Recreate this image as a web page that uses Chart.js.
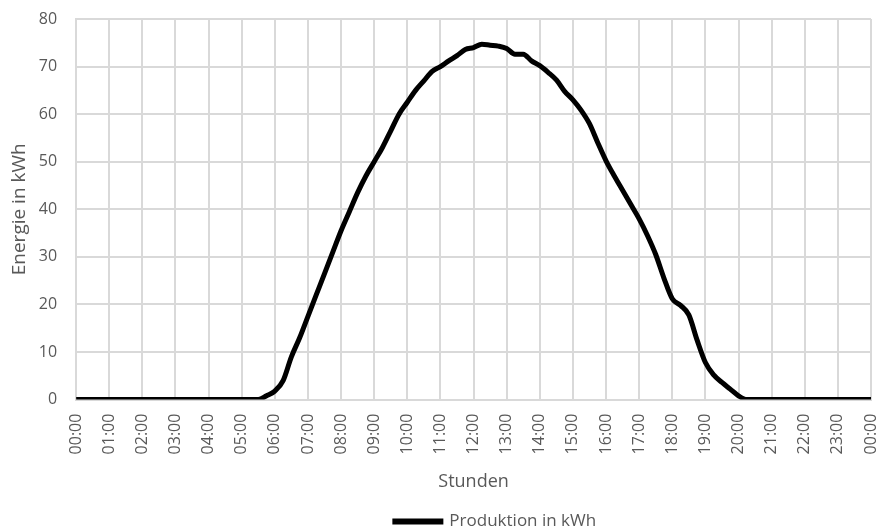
<!DOCTYPE html>
<html>
<head>
<meta charset="utf-8">
<script src="https://cdn.jsdelivr.net/npm/chart.js@4/dist/chart.umd.min.js"></script>
<style>
  html, body { margin: 0; padding: 0; background: #fff; }
  #wrap { width: 879px; height: 526px; }
</style>
</head>
<body>
<div id="wrap"><canvas id="prodChart"></canvas></div>
<script>
// hour labels shown on the x axis (every 4th quarter-hour)
const hourLabels = ['00:00','01:00','02:00','03:00','04:00','05:00','06:00','07:00','08:00',
  '09:00','10:00','11:00','12:00','13:00','14:00','15:00','16:00','17:00','18:00','19:00',
  '20:00','21:00','22:00','23:00','00:00'];

// quarter-hour production values in kWh, 00:00 .. 24:00
const nightMorning = [0,0,0,0, 0,0,0,0, 0,0,0,0, 0,0,0,0, 0,0,0,0, 0,0];
const production = nightMorning.concat([
  0, 0.8,                                   // 05:30, 05:45
  1.8, 4, 9, 13,                            // 06:00
  17.5, 22, 26.5, 31,                       // 07:00
  35.5, 39.5, 43.5, 47,                     // 08:00
  50, 53, 56.5, 60,                         // 09:00
  62.5, 65, 67, 69,                         // 10:00
  70, 71.2, 72.3, 73.6,                     // 11:00
  74, 74.7, 74.5, 74.3,                     // 12:00
  73.8, 72.6, 72.6, 71.2,                   // 13:00
  70.2, 68.8, 67.2, 64.8,                   // 14:00
  63, 60.8, 58, 54,                         // 15:00
  50.2, 47, 44, 41,                         // 16:00
  38, 34.5, 30.5, 25.5,                     // 17:00
  21.2, 19.8, 17.8, 12.5,                   // 18:00
  7.8, 5.2, 3.6, 2.2,                       // 19:00
  0.8, 0, 0, 0,                             // 20:00
  0, 0, 0, 0,  0, 0, 0, 0,  0, 0, 0, 0,     // 21:00 - 23:45
  0                                         // 24:00
]);

const yTicks = { min: 0, max: 80, step: 10 };

const gridColor = '#d9d9d9';
const textColor = '#595959';
const fontFamily = '"Open Sans", "Noto Sans", sans-serif';

// legend sits a bit right of centre, under the axis title
const legendShift = {
  id: 'legendShift',
  afterLayout(chart) {
    const lg = chart.legend;
    if (lg) { lg.left += 60; lg.right += 60; }
  }
};

new Chart(document.getElementById('prodChart'), {
  type: 'line',
  data: {
    datasets: [{
      label: 'Produktion in kWh',
      data: production.map((v, i) => ({ x: i, y: v })),
      borderColor: '#000',
      backgroundColor: '#000',
      borderWidth: 5,
      pointRadius: 0,
      cubicInterpolationMode: 'monotone',
      fill: false
    }]
  },
  plugins: [legendShift],
  options: {
    responsive: true,
    maintainAspectRatio: false,
    animation: false,
    layout: { padding: { top: 19, right: 8, left: 0, bottom: -14 } },
    plugins: {
      tooltip: { enabled: false },
      legend: {
        position: 'bottom',
        labels: {
          color: textColor,
          font: { family: fontFamily, size: 17 },
          boxWidth: 46,
          boxHeight: 1,
          padding: 0
        }
      }
    },
    scales: {
      x: {
        type: 'linear',
        min: 0,
        max: (hourLabels.length - 1) * 4,
        // let the last rotated label run to the canvas edge
        afterFit: scale => { scale.paddingRight = 0; },
        grid: { color: gridColor, lineWidth: 2, drawTicks: true, tickLength: 14, tickColor: 'transparent' },
        border: { color: gridColor, width: 2 },
        ticks: {
          stepSize: 4,
          autoSkip: false,
          minRotation: 90,
          maxRotation: 90,
          padding: 0,
          color: textColor,
          font: { family: fontFamily, size: 16 },
          callback: v => hourLabels[v / 4]
        },
        title: {
          display: true,
          text: 'Stunden',
          color: textColor,
          font: { family: fontFamily, size: 18 },
          padding: { top: 17, bottom: 20 }
        }
      },
      y: {
        min: yTicks.min,
        max: yTicks.max,
        grid: { color: gridColor, lineWidth: 2, drawTicks: true, tickLength: 19, tickColor: 'transparent' },
        border: { color: gridColor, width: 2 },
        ticks: {
          stepSize: yTicks.step,
          padding: 0,
          color: textColor,
          font: { family: fontFamily, size: 16 }
        },
        title: {
          display: true,
          text: 'Energie in kWh',
          color: textColor,
          font: { family: fontFamily, size: 19 },
          padding: { top: 8, bottom: 8 }
        }
      }
    }
  }
});
</script>
</body>
</html>
